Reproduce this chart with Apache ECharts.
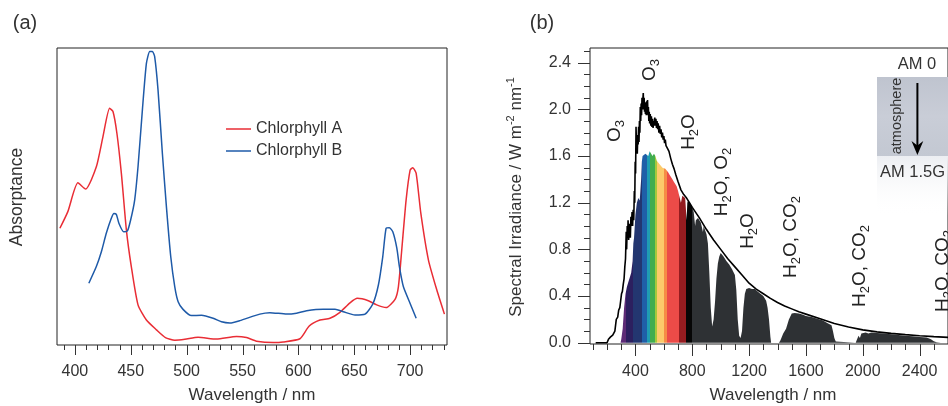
<!DOCTYPE html>
<html><head><meta charset="utf-8">
<script src="https://cdn.jsdelivr.net/npm/echarts@6/dist/echarts.min.js"></script>
<style>html,body{margin:0;padding:0;background:#fff}#c{width:948px;height:406px}</style>
</head><body><div id="c"></div>
<script>
// ---------- Panel (a): absorptance of chlorophylls ----------
const chlAWavelength = [386.6,393.7,402.7,409.6,419.2,425.1,431.1,434.1,437.6,441.6,446.1,450.5,456.5,464,473,481,489.4,498.4,510.2,526.7,544.7,553.6,562.6,577.5,586.4,601.4,609.7,619.3,628.3,637.2,646.2,652.8,662.6,670.1,678.5,686.5,689.5,692.5,696.4,700,702.4,705.4,709.6,716.4,723.9,730.7];
const chlAValue = [0.393,0.449,0.546,0.525,0.600,0.701,0.797,0.786,0.713,0.578,0.387,0.264,0.135,0.084,0.051,0.025,0.016,0.019,0.026,0.020,0.029,0.025,0.013,0.008,0.010,0.021,0.064,0.084,0.090,0.110,0.142,0.157,0.149,0.135,0.126,0.154,0.196,0.320,0.488,0.589,0.597,0.578,0.443,0.286,0.185,0.104];
const chlBWavelength = [412.5,419.2,423.7,428.1,432.6,435,437.1,439.4,443.7,447,449.9,453.5,456.5,460.4,464,467,469.4,471.4,474.4,478.3,481.9,485.8,489.4,492.4,496.8,504.3,513.3,523.7,531.2,538.7,547.6,565.5,574.5,589.5,598.4,607.4,622.3,632.8,640.2,650.7,659.7,666.6,671.6,675.5,678.5,681.4,684.5,688.1,690.4,694,700,705.4];
const chlBValue = [0.208,0.264,0.314,0.376,0.427,0.443,0.440,0.410,0.381,0.384,0.421,0.488,0.600,0.791,0.948,0.988,0.988,0.971,0.859,0.645,0.466,0.297,0.196,0.146,0.120,0.099,0.100,0.090,0.078,0.074,0.082,0.104,0.109,0.104,0.107,0.115,0.120,0.120,0.112,0.101,0.104,0.138,0.202,0.297,0.393,0.395,0.381,0.326,0.264,0.196,0.140,0.090];
const aTickLabels = [400,450,500,550,600,650,700];

// ---------- Panel (b): solar spectral irradiance ----------
const am0Wavelength = [120,200,210,225,240,255,265,275,282,290,296,302,308,314,320,325,330,335,338,342,345,348,352,356,360,364,368,372,376,380,384,388,392,395,398,401,404,407,410,413,416,419,422,425,428,431,434,437,440,443,446,449,452,455,458,461,464,467,470,473,476,479,482,485,488,491,494,497,500,504,508,512,516,520,524,528,532,536,540,544,548,552,556,560,565,570,575,580,585,590,595,600,605,610,615,620,628,636,648,660,672,684,700,720,740,760,780,800,850,900,950,1000,1050,1100,1150,1200,1250,1300,1350,1400,1450,1500,1550,1600,1700,1800,1900,2000,2100,2200,2300,2400,2500,2600];
const am0Value = [0,0,0.03,0.05,0.065,0.1,0.2,0.22,0.28,0.3,0.36,0.42,0.44,0.5,0.55,0.65,0.72,0.95,0.8,1.0,0.9,1.05,0.88,0.95,1.02,0.9,1.08,1.0,1.12,1.0,1.14,1.05,1.3,1.2,1.55,1.45,1.85,1.7,1.75,1.62,1.78,1.7,1.85,1.72,1.9,1.8,2.02,1.9,2.05,1.95,2.1,2.0,2.08,2.14,2.0,2.1,1.98,2.06,1.96,2.05,1.95,2.07,2.0,2.08,1.95,2.02,1.9,1.98,1.88,1.96,1.86,1.94,1.85,1.92,1.84,1.9,1.86,1.93,1.86,1.92,1.84,1.9,1.83,1.88,1.8,1.86,1.79,1.83,1.76,1.8,1.74,1.77,1.71,1.74,1.69,1.7,1.66,1.64,1.58,1.53,1.49,1.44,1.38,1.31,1.27,1.24,1.2,1.16,1.07,0.97,0.88,0.8,0.72,0.65,0.58,0.51,0.46,0.42,0.38,0.345,0.315,0.29,0.265,0.245,0.205,0.165,0.135,0.11,0.093,0.08,0.069,0.06,0.052,0.046];
const am15Wavelength = [295,300,310,320,330,340,350,360,370,380,385,390,400,410,420,430,440,445,450,460,470,480,490,500,510,520,530,540,550,560,570,580,590,600,610,620,630,640,650,660,670,680,690,700,710,720,730,740,750,760,765,770,780,790,800,810,820,825,840,860,875,880,900,910,920,930,940,950,960,970,980,990,1000,1020,1040,1060,1080,1100,1110,1120,1130,1140,1150,1160,1170,1180,1200,1220,1240,1260,1280,1300,1320,1330,1340,1350,1355,1410,1420,1440,1460,1480,1500,1520,1550,1580,1600,1640,1680,1720,1750,1780,1790,1800,1810,1820,1950,1960,1970,1980,1990,2000,2020,2040,2060,2100,2150,2200,2250,2300,2350,2400,2450,2480,2500,2520,2550];
const am15Value = [0,0.03,0.12,0.3,0.42,0.48,0.52,0.56,0.6,0.7,0.85,0.9,1.1,1.2,1.24,1.22,1.4,1.55,1.6,1.6,1.62,1.62,1.6,1.64,1.63,1.6,1.62,1.6,1.56,1.55,1.53,1.52,1.5,1.5,1.49,1.48,1.46,1.44,1.43,1.4,1.38,1.37,1.34,1.3,1.25,1.2,1.26,1.25,1.24,1.05,1.2,1.22,1.2,1.19,1.16,1.12,1.0,1.05,1.07,1.03,0.95,1.0,0.93,0.85,0.6,0.3,0.14,0.2,0.35,0.55,0.68,0.74,0.77,0.74,0.7,0.67,0.63,0.58,0.45,0.2,0.06,0.04,0.1,0.3,0.42,0.46,0.47,0.46,0.46,0.44,0.42,0.4,0.36,0.3,0.2,0.05,0,0,0.02,0.08,0.12,0.2,0.25,0.255,0.25,0.24,0.23,0.22,0.205,0.19,0.17,0.15,0.1,0.04,0.01,0,0,0.03,0.06,0.04,0.08,0.075,0.088,0.08,0.088,0.084,0.078,0.072,0.066,0.06,0.055,0.05,0.044,0.03,0.012,0.005,0];
const bandEdges = [280,330,380,445,478,505,535,552,598,625,705,755,795,2700];
const bandColors = ['#5d2b76','#2c1f5f','#233670','#1f5fa8','#1f9db2','#41ad4f','#a5c93b','#fcca6b','#f68c46','#ec4b48','#941c20','#060606','#2e3134'];
const bXTickLabels = [400,800,1200,1600,2000,2400];
const bYTickLabels = [0,0.4,0.8,1.2,1.6,2.0,2.4];

const FONT = 'Liberation Sans';
const TXT = '#333';
const A = {left: 57, top: 48, width: 390, height: 297, x: [384, 733], y: [0, 1]};
const B = {left: 590, top: 48, width: 363.3, height: 296, x: [80, 2600], y: [-0.011, 2.526]};
// tick rulers: [first, last, step, minorLength, majorEvery]
const aXRuler = [390, 730, 10, 5, 50];
const bXRuler = [100, 2600, 100, 6, 400];
const bYRuler = [0, 2.5, 0.1, 6, 0.4];

function mainAxis(g, range, labels, extra, pos) {
  return {type: 'value', gridIndex: g, min: range[0], max: range[1], position: pos,
    splitLine: {show: false}, axisLine: {show: false}, axisTick: {show: false},
    axisLabel: labels ? Object.assign({show: true, customValues: labels, fontFamily: FONT, fontSize: 16, color: TXT}, extra || {}) : {show: false}};
}
function rotText(x, y, text, size) {
  return {
    type: 'text', x: x, y: y, rotation: Math.PI / 2, z: 100,
    style: {
      text: text, fontFamily: FONT, fontSize: size, fill: '#222',
      align: 'center', verticalAlign: 'middle', lineHeight: 24,
      rich: {s: {fontFamily: FONT, fontSize: Math.round(size * 0.66), fill: '#222', verticalAlign: 'bottom', lineHeight: 24, height: 14}}
    }
  };
}
function plainText(x, y, text, size, align) {
  return {type: 'text', x: x, y: y, z: 100,
    style: {text: text, fontFamily: FONT, fontSize: size, fill: TXT, align: align || 'center', verticalAlign: 'middle'}};
}

const chart = echarts.init(document.getElementById('c'));
chart.setOption({
  animation: false,
  backgroundColor: '#fff',
  grid: [
    {left: A.left, top: A.top, width: A.width, height: A.height, show: true, borderColor: '#222', borderWidth: 1},
    {left: B.left, top: B.top, width: B.width, height: B.height, show: true, borderColor: '#222', borderWidth: 1}
  ],
  xAxis: [
    mainAxis(0, A.x, aTickLabels, {margin: 19}, 'bottom'),
    mainAxis(1, B.x, bXTickLabels, {margin: 20, formatter: v => String(v)}, 'bottom')
  ],
  yAxis: [
    mainAxis(0, A.y, null, null, 'left'),
    mainAxis(1, B.y, bYTickLabels, {margin: 19, formatter: v => v.toFixed(1)}, 'left')
  ],
  legend: {
    orient: 'vertical', left: 226, top: 121, padding: 0, itemWidth: 25, itemHeight: 1.5, itemGap: 6, icon: 'rect',
    textStyle: {fontFamily: FONT, fontSize: 16, color: TXT},
    data: ['Chlorphyll A', 'Chlorphyll B']
  },
  visualMap: {
    type: 'piecewise', show: false, seriesIndex: 2, dimension: 0,
    pieces: bandColors.map((c, i) => ({gte: bandEdges[i], lt: bandEdges[i + 1], color: c})),
    outOfRange: {color: '#2e3134'}
  },
  series: [
    {name: 'Chlorphyll A', type: 'line', xAxisIndex: 0, yAxisIndex: 0, symbol: 'none', smooth: 0.2,
     lineStyle: {color: '#e92d35', width: 1.5}, itemStyle: {color: '#e92d35'},
     data: chlAWavelength.map((w, i) => [w, chlAValue[i]])},
    {name: 'Chlorphyll B', type: 'line', xAxisIndex: 0, yAxisIndex: 0, symbol: 'none', smooth: 0.2,
     lineStyle: {color: '#1e5aa8', width: 1.5}, itemStyle: {color: '#1e5aa8'},
     data: chlBWavelength.map((w, i) => [w, chlBValue[i]])},
    {name: 'AM 1.5G', type: 'line', xAxisIndex: 1, yAxisIndex: 1, symbol: 'none',
     lineStyle: {width: 0}, areaStyle: {opacity: 1},
     data: am15Wavelength.map((w, i) => [w, am15Value[i]])},
    {name: 'AM 0', type: 'line', xAxisIndex: 1, yAxisIndex: 1, symbol: 'none',
     lineStyle: {color: '#000', width: 1.6}, itemStyle: {color: '#000'},
     data: am0Wavelength.map((w, i) => [w, am0Value[i]])}
  ]
});

// axis tick marks, positioned through the chart's axis scales
function toPx(finder, F, pt) {
  let p = null;
  try { p = chart.convertToPixel(finder, pt); } catch (e) { p = null; }
  if (!p || !isFinite(p[0]) || !isFinite(p[1])) {
    p = [F.left + (pt[0] - F.x[0]) / (F.x[1] - F.x[0]) * F.width,
         F.top + (F.y[1] - pt[1]) / (F.y[1] - F.y[0]) * F.height];
  }
  return p;
}
const tickEls = [];
function addTicks(finder, F, ruler, dir) {
  const n = Math.round((ruler[1] - ruler[0]) / ruler[2]);
  for (let i = 0; i <= n; i++) {
    const v = +(ruler[0] + i * ruler[2]).toFixed(4);
    const major = Math.abs(v / ruler[4] - Math.round(v / ruler[4])) < 1e-6;
    const len = major ? ruler[3] * 2 : ruler[3];
    const p = toPx(finder, F, dir === 'x' ? [v, F.y[0]] : [F.x[0], v]);
    if (p[0] > 948) continue;
    const shape = dir === 'x'
      ? {x: Math.round(p[0]), y: Math.round(p[1]), width: 1, height: len}
      : {x: Math.round(p[0]) - len, y: Math.round(p[1]), width: len, height: 1};
    tickEls.push({type: 'rect', z: 110, silent: true, shape: shape, style: {fill: '#333'}});
  }
}
addTicks({xAxisIndex: 0, yAxisIndex: 0}, A, aXRuler, 'x');
addTicks({xAxisIndex: 1, yAxisIndex: 1}, B, bXRuler, 'x');
addTicks({xAxisIndex: 1, yAxisIndex: 1}, B, bYRuler, 'y');

chart.setOption({
  graphic: [
    plainText(25, 23, '(a)', 20),
    plainText(542, 23, '(b)', 20),
    plainText(252, 395, 'Wavelength / nm', 17),
    plainText(773, 395, 'Wavelength / nm', 17),
    {type: 'text', x: 17, y: 197, rotation: Math.PI / 2, z: 100,
     style: {text: 'Absorptance', fontFamily: FONT, fontSize: 17.5, fill: TXT, align: 'center', verticalAlign: 'middle'}},
    {type: 'text', x: 516, y: 197, rotation: Math.PI / 2, z: 100,
     style: {text: 'Spectral Irradiance / W m{u|-2} nm{u|-1}', fontFamily: FONT, fontSize: 17, fill: TXT,
       align: 'center', verticalAlign: 'middle', lineHeight: 22,
       rich: {u: {fontFamily: FONT, fontSize: 11, fill: TXT, verticalAlign: 'top', lineHeight: 22, height: 12}}}},
    rotText(615, 131, 'O{s|3}', 19),
    rotText(650, 70, 'O{s|3}', 19),
    rotText(689, 132, 'H{s|2}O', 19),
    rotText(722, 182, 'H{s|2}O, O{s|2}', 19),
    rotText(748, 231, 'H{s|2}O', 19),
    rotText(791, 237, 'H{s|2}O, CO{s|2}', 19),
    rotText(860, 266, 'H{s|2}O, CO{s|2}', 19),
    rotText(943, 271, 'H{s|2}O, CO{s|2}', 19),
    {type: 'rect', z: 90, shape: {x: 877, y: 156, width: 80, height: 60},
     style: {fill: new echarts.graphic.LinearGradient(0, 0, 0, 1, [{offset: 0, color: '#eceef2'}, {offset: 1, color: 'rgba(255,255,255,0)'}])}},
    {type: 'rect', z: 91, shape: {x: 877, y: 77, width: 80, height: 79},
     style: {fill: new echarts.graphic.LinearGradient(0, 0, 0, 1, [{offset: 0, color: '#bfc4cf'}, {offset: 0.5, color: '#c9cdd7'}, {offset: 1, color: '#c3c8d2'}])}},
    {type: 'line', z: 95, shape: {x1: 917.4, y1: 83, x2: 917.4, y2: 148}, style: {stroke: '#000', lineWidth: 2}},
    {type: 'polygon', z: 95, shape: {points: [[917.4, 155], [911.5, 141], [917.4, 145.5], [923.3, 141]]}, style: {fill: '#000'}},
    plainText(917, 64, 'AM 0', 16.5),
    plainText(880, 172, 'AM 1.5G', 16.5, 'left'),
    {type: 'text', x: 897, y: 116, rotation: Math.PI / 2, z: 100,
     style: {text: 'atmosphere', fontFamily: FONT, fontSize: 14.5, fill: TXT, align: 'center', verticalAlign: 'middle'}}
  ].concat(tickEls)
});
</script></body></html>
